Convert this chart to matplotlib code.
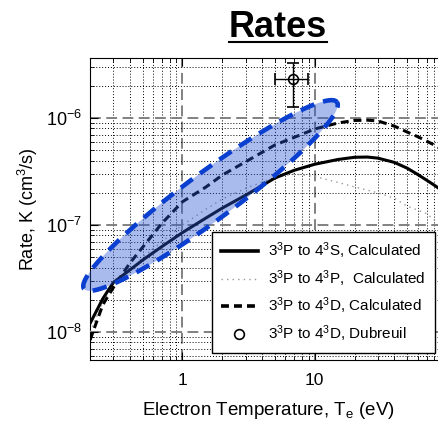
import numpy as np
import matplotlib
matplotlib.use('Agg')
from matplotlib import pyplot as plt
from matplotlib.lines import Line2D

plt.rcParams['font.family'] = ['Liberation Sans', 'DejaVu Sans']
plt.rcParams['mathtext.fontset'] = 'custom'
plt.rcParams['mathtext.rm'] = 'Liberation Sans'
plt.rcParams['mathtext.it'] = 'Liberation Sans:italic'
plt.rcParams['mathtext.bf'] = 'Liberation Sans:bold'

# electron temperature (eV)
temps = [0.2, 0.25, 0.3, 0.4, 0.5, 0.7, 1, 1.5, 2, 3, 5, 7, 10, 15, 20, 25, 30, 40, 50, 60, 70, 80, 100]
# rates (cm^3/s)
rate_s = [1.2e-8, 2.05e-8, 2.9e-8, 3.8e-8, 4.7e-8, 6.3e-8, 8.5e-8, 1.16e-7, 1.44e-7, 1.9e-7,
          2.75e-7, 3.25e-7, 3.7e-7, 4.1e-7, 4.3e-7, 4.32e-7, 4.22e-7, 3.85e-7, 3.4e-7, 2.97e-7,
          2.63e-7, 2.36e-7, 1.95e-7]
rate_p = [1.0e-8, 1.9e-8, 2.7e-8, 3.7e-8, 5.0e-8, 7.0e-8, 1.0e-7, 1.4e-7, 1.75e-7, 2.2e-7,
          2.8e-7, 3.0e-7, 2.85e-7, 2.5e-7, 2.27e-7, 2.12e-7, 2.0e-7, 1.78e-7, 1.5e-7, 1.38e-7,
          1.28e-7, 1.12e-7, 0.95e-7]
rate_d = [8.4e-9, 1.8e-8, 2.6e-8, 4.4e-8, 6.2e-8, 1.04e-7, 1.65e-7, 2.26e-7, 2.93e-7, 3.9e-7,
          5.6e-7, 6.6e-7, 7.9e-7, 9.0e-7, 9.5e-7, 9.55e-7, 9.4e-7, 8.4e-7, 7.4e-7, 6.7e-7,
          6.1e-7, 5.6e-7, 4.8e-7]

# Dubreuil measurement
dub_t = [6.8]
dub_k = [2.3e-6]
dub_terr = [[1.8], [2.05]]
dub_kerr = [[1.03e-6], [1.0e-6]]

# highlighted region (log10 space): centre, major and minor half-axis vectors
ell_center = (0.212, -6.724)
ell_major = (0.956, 0.873)
ell_minor = (-0.108, 0.180)

fig = plt.figure(figsize=(4.38, 4.23), dpi=100)
ax = fig.add_axes([0.2055, 0.1489, 0.8151, 0.7139])
ax.set_xscale('log')
ax.set_yscale('log')
ax.set_xlim(0.2, 100)
ax.set_ylim(5.47e-9, 3.64e-6)

ax.grid(True, which='minor', color='black', linestyle=(0, (1, 2)), linewidth=0.7)
ax.grid(True, which='major', color='#777777', linestyle=(0, (6, 3)), linewidth=1.3)
ax.set_axisbelow(True)

ax.plot(temps, rate_p, color='#999999', linestyle=(0, (1, 3)), linewidth=1.0, zorder=3)
ax.plot(temps, rate_s, color='black', linewidth=2.2, zorder=4)
ax.plot(temps, rate_d, color='black', linestyle=(0, (2.6, 1.6)), linewidth=2.2, zorder=4)
ax.errorbar(dub_t, dub_k, xerr=dub_terr, yerr=dub_kerr, fmt='o', mfc='none', mec='black',
            ms=7, mew=1.2, ecolor='black', elinewidth=1.0, capsize=4, capthick=1.0, zorder=5)

t = np.linspace(0, 2 * np.pi, 300)
lx = ell_center[0] + np.cos(t) * ell_major[0] + np.sin(t) * ell_minor[0]
ly = ell_center[1] + np.cos(t) * ell_major[1] + np.sin(t) * ell_minor[1]
ax.fill(10 ** lx, 10 ** ly, color='#2a55d4', alpha=0.4, linewidth=0, zorder=6, clip_on=False)
ax.plot(10 ** lx, 10 ** ly, color='#0a3fd0', linewidth=3.3, linestyle=(0, (3.2, 2.0)),
        zorder=7, clip_on=False)

handles = [
    Line2D([], [], color='black', linewidth=2.6),
    Line2D([], [], color='#999999', linestyle=(0, (1, 3)), linewidth=1.0),
    Line2D([], [], color='black', linestyle=(0, (2.2, 1.4)), linewidth=2.6),
    Line2D([], [], color='black', linestyle='none', marker='o', mfc='none', ms=7, mew=1.2),
]
labels = [
    '3$\\mathregular{^3}$P to 4$\\mathregular{^3}$S, Calculated',
    '3$\\mathregular{^3}$P to 4$\\mathregular{^3}$P,  Calculated',
    '3$\\mathregular{^3}$P to 4$\\mathregular{^3}$D, Calculated',
    '3$\\mathregular{^3}$P to 4$\\mathregular{^3}$D, Dubreuil',
]
leg = ax.legend(handles, labels, loc='lower right', bbox_to_anchor=(0.966, 0.023), borderaxespad=0,
                fontsize=11, frameon=True, fancybox=False, edgecolor='black',
                framealpha=1, handlelength=2.4, handletextpad=0.7, labelspacing=0.45,
                borderpad=0.6)
leg.get_frame().set_linewidth(1.0)
leg.set_zorder(10)

ax.tick_params(which='both', direction='in', top=True, right=True)
ax.tick_params(which='major', length=6)
ax.tick_params(which='minor', length=3)
ax.tick_params(axis='x', labelsize=12.5, pad=9)
ax.tick_params(axis='y', labelsize=13, pad=6)
ax.set_xticks([1, 10])
ax.set_xticklabels(['1', '10'])
ax.set_yticks([1e-8, 1e-7, 1e-6])
ax.set_yticklabels([r'$\mathregular{10^{-8}}$', r'$\mathregular{10^{-7}}$', r'$\mathregular{10^{-6}}$'])

ax.set_xlabel(r'Electron Temperature, $\mathregular{T_e}$ (eV)', fontsize=13.5, labelpad=9)
ax.set_ylabel(r'Rate, K (cm$\mathregular{^3}$/s)', fontsize=13, labelpad=4)

title = fig.text(0.635, 0.9125, 'Rates', fontsize=26, fontweight='bold', ha='center', va='baseline')
fig.canvas.draw()
bb = title.get_window_extent().transformed(fig.transFigure.inverted())
fig.add_artist(Line2D([bb.x0, bb.x1], [0.9125 - 0.012, 0.9125 - 0.012],
                      color='black', linewidth=1.5, transform=fig.transFigure))

fig.savefig('out.png', dpi=100)
